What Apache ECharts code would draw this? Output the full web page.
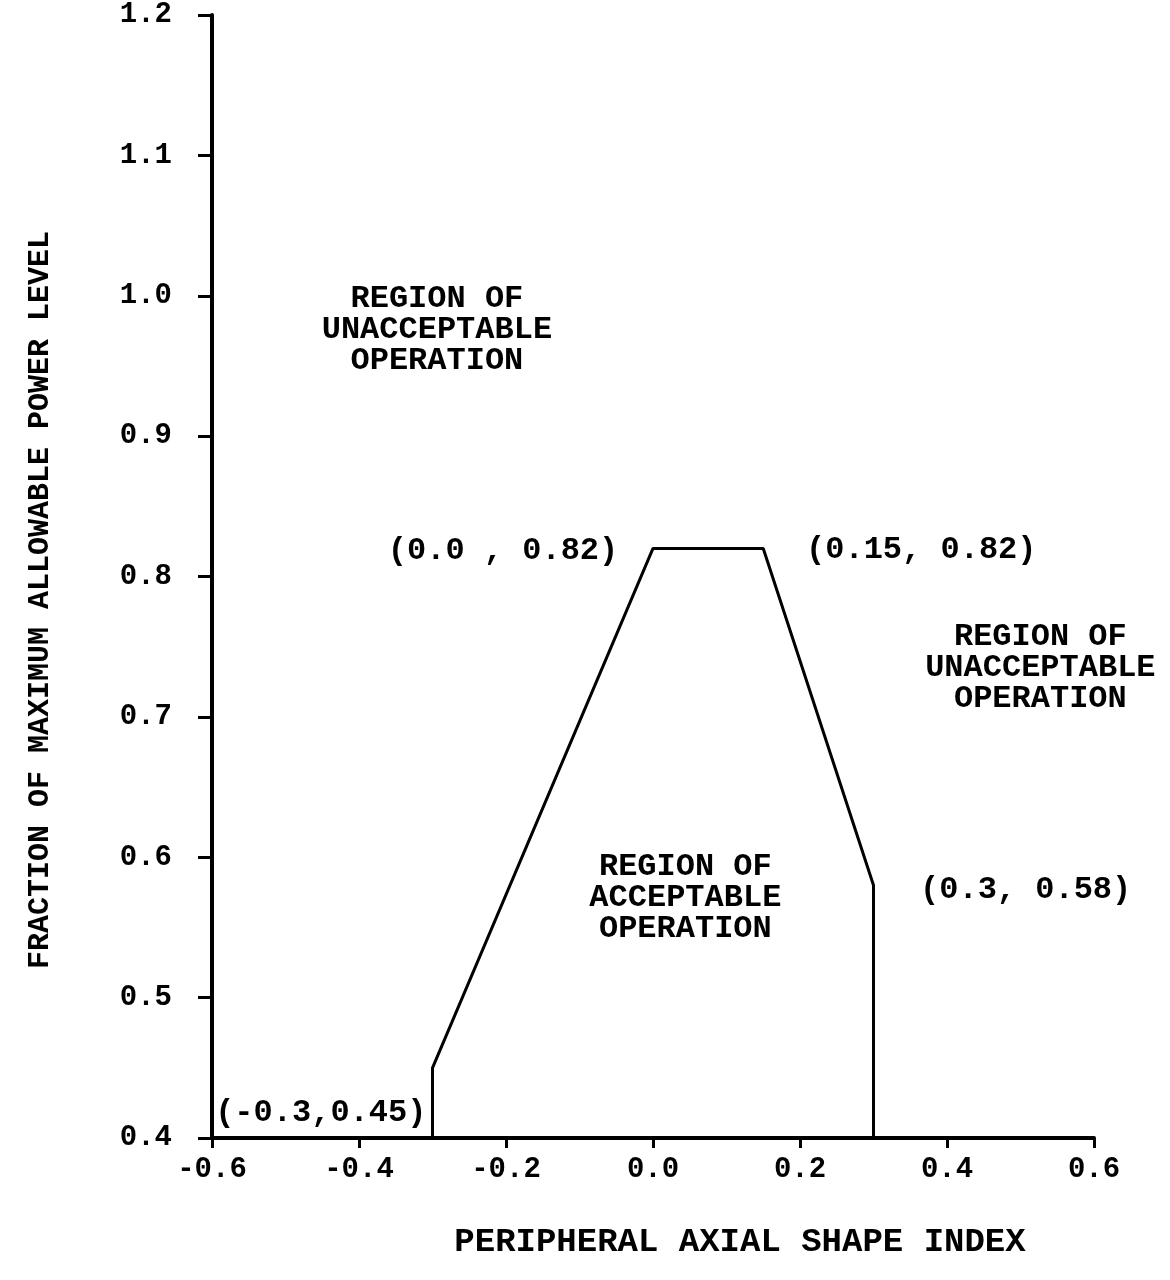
<!DOCTYPE html>
<html lang="en" style="height: 100%">
<head>
  <meta charset="utf-8">
</head>
<body style="height: 100%; margin: 0; background: #fff">
  <div id="container" style="width: 1170px; height: 1280px"></div>
  <script type="text/javascript" src="https://cdn.jsdelivr.net/npm/echarts@6/dist/echarts.min.js"></script>
  <script type="text/javascript">
// operating limit boundary (shape index, fraction of power)
var shapeIndex = [-0.3, -0.3, 0.0, 0.15, 0.3, 0.3];
var powerFraction = [0.4, 0.45, 0.82, 0.82, 0.58, 0.4];

// axis ranges
var xTicks = [-0.6, -0.4, -0.2, 0.0, 0.2, 0.4, 0.6];
var yTicks = [0.4, 0.5, 0.6, 0.7, 0.8, 0.9, 1.0, 1.1, 1.2];

// text annotations placed in data coordinates
var noteText = [
  'REGION OF\nUNACCEPTABLE\nOPERATION',
  'REGION OF\nUNACCEPTABLE\nOPERATION',
  'REGION OF\nACCEPTABLE\nOPERATION',
  '(0.0 , 0.82)',
  '(0.15, 0.82)',
  '(0.3, 0.58)',
  '(-0.3,0.45)'
];
var noteX = [-0.294, 0.527, 0.044, -0.204, 0.365, 0.507, -0.452];
var noteY = [0.976, 0.735, 0.571, 0.818, 0.819, 0.577, 0.418];

var FONT = '"Liberation Mono", "DejaVu Sans Mono", monospace';
var dom = document.getElementById('container');
var myChart = echarts.init(dom, null, { renderer: 'canvas' });

var boundary = shapeIndex.map(function (x, i) { return [x, powerFraction[i]]; });
var notes = noteText.map(function (t, i) {
  return { value: [noteX[i], noteY[i]], label: { formatter: t } };
});

var option = {
  backgroundColor: '#fff',
  animation: false,
  grid: { left: 212, right: 76, top: 15, bottom: 142 },
  xAxis: {
    type: 'value',
    min: xTicks[0],
    max: xTicks[xTicks.length - 1],
    interval: 0.2,
    axisLine: { onZero: false, lineStyle: { color: '#000', width: 4 } },
    axisTick: { length: 10, lineStyle: { color: '#000', width: 3 } },
    splitLine: { show: false },
    axisLabel: {
      margin: 17,
      color: '#000',
      fontFamily: FONT,
      fontSize: 29,
      fontWeight: 'bold',
      formatter: function (v) { return v.toFixed(1); }
    }
  },
  yAxis: {
    type: 'value',
    min: yTicks[0],
    max: yTicks[yTicks.length - 1],
    interval: 0.1,
    axisLine: { onZero: false, lineStyle: { color: '#000', width: 4 } },
    axisTick: { length: 14, lineStyle: { color: '#000', width: 3 } },
    splitLine: { show: false },
    axisLabel: {
      margin: 40,
      color: '#000',
      fontFamily: FONT,
      fontSize: 29,
      fontWeight: 'bold',
      formatter: function (v) { return v.toFixed(1); }
    }
  },
  graphic: [
    {
      type: 'text',
      x: 40,
      y: 600,
      rotation: Math.PI / 2,
      style: {
        text: 'FRACTION OF MAXIMUM ALLOWABLE POWER LEVEL',
        font: 'bold 30px ' + FONT,
        fill: '#000',
        align: 'center',
        verticalAlign: 'middle'
      }
    },
    {
      type: 'text',
      x: 740,
      y: 1242,
      style: {
        text: 'PERIPHERAL AXIAL SHAPE INDEX',
        font: 'bold 34px ' + FONT,
        fill: '#000',
        align: 'center',
        verticalAlign: 'middle'
      }
    }
  ],
  series: [
    {
      type: 'line',
      data: boundary,
      symbol: 'none',
      lineStyle: { color: '#000', width: 3 }
    },
    {
      type: 'scatter',
      data: notes,
      symbolSize: 0,
      silent: true,
      itemStyle: { opacity: 1 },
      label: {
        show: true,
        position: 'inside',
        color: '#000',
        fontFamily: FONT,
        fontSize: 32,
        fontWeight: 'bold',
        lineHeight: 31,
        align: 'center',
        verticalAlign: 'middle'
      }
    }
  ]
};

myChart.setOption(option);
window.addEventListener('resize', myChart.resize);
  </script>
</body>
</html>
